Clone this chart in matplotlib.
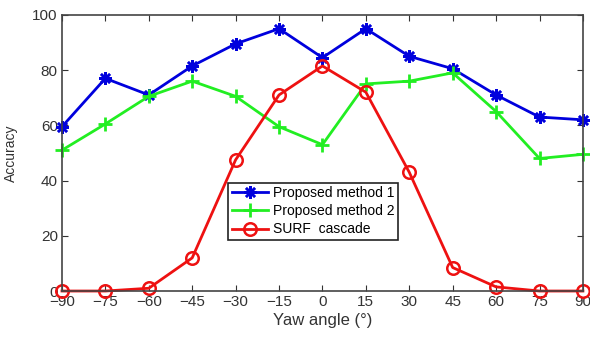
import matplotlib
matplotlib.use("Agg")
import matplotlib.pyplot as plt

yaw = [-90, -75, -60, -45, -30, -15, 0, 15, 30, 45, 60, 75, 90]
method1 = [59.5, 77, 71, 81.5, 89.5, 95, 84.5, 95, 85, 80.5, 71, 63, 62]
method2 = [51, 60.5, 70.5, 76, 70.5, 59.5, 53, 75, 76, 79, 65, 48, 49.5]
surf = [0, 0, 1, 12, 47.5, 71, 81.5, 72, 43, 8.5, 1.5, 0, 0]

plt.rcParams['font.family'] = ['Liberation Sans', 'DejaVu Sans']

fig = plt.figure(figsize=(5.9, 3.38), dpi=100)
ax = fig.add_axes([0.105, 0.139, 0.883, 0.817])

ax.plot(yaw, method1, color="#0000dd", linewidth=2, marker=(8, 2, 0), markersize=9,
        markeredgewidth=1.8, label="Proposed method 1", clip_on=False)
ax.plot(yaw, method2, color="#22ee22", linewidth=2, marker="+", markersize=10,
        markeredgewidth=2, label="Proposed method 2", clip_on=False)
ax.plot(yaw, surf, color="#ee1111", linewidth=2, marker="o", markersize=9,
        markerfacecolor="none", markeredgewidth=1.8, label="SURF  cascade", clip_on=False)

ax.set_xlim(-90, 90)
ax.set_ylim(0, 100)
ax.set_xticks(yaw)
ax.set_xticklabels(["\u221290", "\u221275", "\u221260", "\u221245", "\u221230", "\u221215",
                    "0", "15", "30", "45", "60", "75", "90"])
ax.set_yticks([0, 20, 40, 60, 80, 100])
ax.tick_params(direction="in", top=True, right=True, length=4, labelsize=11,
               colors="#333333", labelcolor="#333333", pad=3)
for s in ax.spines.values():
    s.set_color("#444444")
    s.set_linewidth(1.2)

ax.set_xlabel("Yaw angle (\u00b0)", fontsize=12, color="#333333", labelpad=3)
ax.set_ylabel("Accuracy", fontsize=10, color="#333333", labelpad=10)

leg = ax.legend(loc="lower left", bbox_to_anchor=(0.319, 0.185), fontsize=10,
                frameon=True, fancybox=False, edgecolor="#222222", framealpha=1,
                borderpad=0.25, labelspacing=0.3, handlelength=2.6, handletextpad=0.4,
                borderaxespad=0)
leg.get_frame().set_linewidth(1.2)

fig.savefig("out.png", dpi=100)
